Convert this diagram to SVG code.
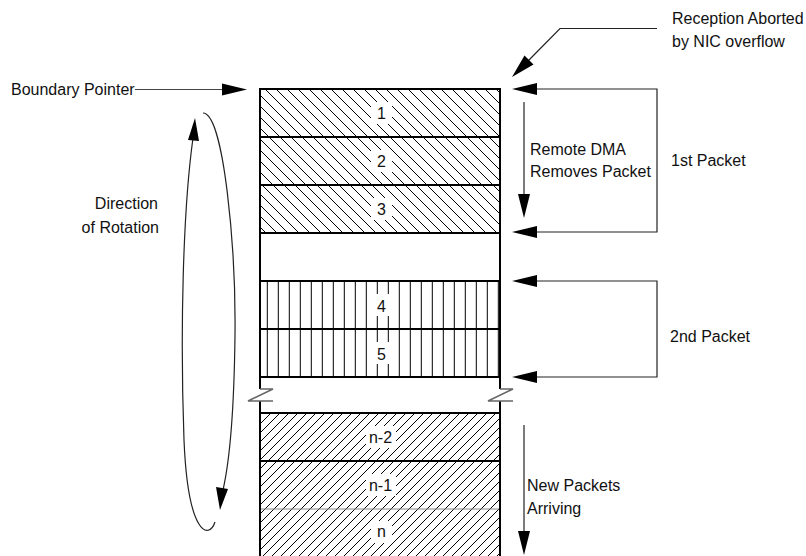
<svg xmlns="http://www.w3.org/2000/svg" width="806" height="556" viewBox="0 0 806 556">
<style>
.t{font-family:"Liberation Sans",Arial,sans-serif;font-size:16px;fill:#111}
.lbl{text-anchor:middle}
.sep{stroke:#000;stroke-width:2;fill:none}
.thin{stroke:#222;stroke-width:1.2;fill:none}
.ah{fill:#000;stroke:none}
.brk{stroke:#666;stroke-width:1.5;fill:none}
.bg{fill:#fff}
</style>
<defs>
<pattern id="back" patternUnits="userSpaceOnUse" width="11" height="11">
<path d="M0,0 L11,11 M-1,10 L1,12 M10,-1 L12,1" stroke="#000" stroke-width="1"/>
</pattern>
<pattern id="fwd" patternUnits="userSpaceOnUse" width="9" height="9">
<path d="M0,9 L9,0 M-1,1 L1,-1 M8,10 L10,8" stroke="#000" stroke-width="1"/>
</pattern>
<pattern id="vert" patternUnits="userSpaceOnUse" width="11" height="11">
<path d="M3.3,0 L3.3,11" stroke="#000" stroke-width="1"/>
</pattern>
</defs>
<rect width="806" height="556" fill="#fff"/>

<g id="row-1">
<rect x="260" y="89" width="240" height="48" fill="url(#back)"/>
<rect class="bg" x="371" y="102" width="21" height="22"/>
<text class="t lbl" x="381.5" y="119">1</text>
</g>
<g id="row-2">
<rect x="260" y="137" width="240" height="48" fill="url(#back)"/>
<rect class="bg" x="371" y="150" width="21" height="22"/>
<text class="t lbl" x="381.5" y="167">2</text>
</g>
<g id="row-3">
<rect x="260" y="185" width="240" height="48" fill="url(#back)"/>
<rect class="bg" x="371" y="198" width="21" height="22"/>
<text class="t lbl" x="381.5" y="215">3</text>
</g>
<g id="row-empty">
<rect x="260" y="233" width="240" height="48" fill="#fff"/>
</g>
<g id="row-4">
<rect x="260" y="281" width="240" height="48" fill="url(#vert)"/>
<rect class="bg" x="371" y="294" width="21" height="22"/>
<text class="t lbl" x="381.5" y="312">4</text>
</g>
<g id="row-5">
<rect x="260" y="329" width="240" height="48" fill="url(#vert)"/>
<rect class="bg" x="371" y="342" width="21" height="22"/>
<text class="t lbl" x="381.5" y="360">5</text>
</g>
<g id="row-n-2">
<rect x="260" y="413" width="240" height="48" fill="url(#fwd)"/>
<rect class="bg" x="366" y="426" width="30" height="22"/>
<text class="t lbl" x="380.5" y="443">n-2</text>
</g>
<g id="row-n-1">
<rect x="260" y="461" width="240" height="48" fill="url(#fwd)"/>
<rect class="bg" x="366" y="474" width="30" height="22"/>
<text class="t lbl" x="380.5" y="491">n-1</text>
</g>
<g id="row-n">
<rect x="260" y="509" width="240" height="50" fill="url(#fwd)"/>
<rect class="bg" x="371" y="521" width="21" height="22"/>
<text class="t lbl" x="381.5" y="537">n</text>
</g>

<g id="buffer-outline">
<path class="sep" d="M260,89 L500,89 M260,137 L500,137 M260,185 L500,185 M260,233 L500,233 M260,281 L500,281 M260,329 L500,329 M260,377 L500,377 M260,413 L500,413 M260,461 L500,461"/>
<path d="M260,509 L500,509" stroke="#888" stroke-width="1.2"/>
<path class="sep" d="M260,88 L260,389 M260,401 L260,556 M500,88 L500,389 M500,401 L500,556"/>
<path class="brk" d="M260,389 L273,389 L248,401 L273,401"/>
<path class="brk" d="M500,389 L513,389 L488,401 L513,401"/>
</g>

<g id="label-boundary">
<text class="t" x="11" y="95">Boundary Pointer</text>
</g>
<g id="label-reception">
<text class="t" x="672" y="24">Reception Aborted</text>
<text class="t" x="672" y="47">by NIC overflow</text>
</g>
<g id="label-remote">
<text class="t" x="530" y="155">Remote DMA</text>
<text class="t" x="530" y="177">Removes Packet</text>
</g>
<g id="label-1st">
<text class="t" x="671" y="166">1st Packet</text>
</g>
<g id="label-2nd">
<text class="t" x="670" y="342">2nd Packet</text>
</g>
<g id="label-direction">
<text class="t" x="158" y="209" text-anchor="end">Direction</text>
<text class="t" x="159" y="233" text-anchor="end">of Rotation</text>
</g>
<g id="label-new">
<text class="t" x="527" y="491">New Packets</text>
<text class="t" x="527" y="514">Arriving</text>
</g>

<g id="connectors">
<path d="M135,89.5 L224,89.5" stroke="#444" stroke-width="1.2" fill="none"/>
<polygon class="ah" points="247,89.5 222,83.5 222,95.5"/>
<path class="thin" d="M657,28.5 L560,28.5 L528,61"/>
<polygon class="ah" points="512,77 524.5,55.5 533.5,64.5"/>
<path class="thin" d="M535,89 L657,89 L657,232 L535,232"/>
<polygon class="ah" points="512,89 537,83 537,95"/>
<polygon class="ah" points="512,232 537,226 537,238"/>
<path class="thin" d="M524,102 L524,196"/>
<polygon class="ah" points="524,218 518,194 530,194"/>
<path class="thin" d="M535,281 L657,281 L657,377 L535,377"/>
<polygon class="ah" points="512,281 537,275 537,287"/>
<polygon class="ah" points="512,377 537,371 537,383"/>
<path class="thin" d="M524,425 L524,534"/>
<polygon class="ah" points="524,555 518,531 530,531"/>
<path class="thin" d="M203,113 C224,113 236,250 235,335 C234,420 228,468 223,490"/>
<polygon class="ah" points="220,510 216,487 228,489"/>
<path class="thin" d="M215,522 C209,540 188,536 184,440 C180,330 183,210 193,138"/>
<polygon class="ah" points="195,118 188,140 199,141"/>
</g>
</svg>
